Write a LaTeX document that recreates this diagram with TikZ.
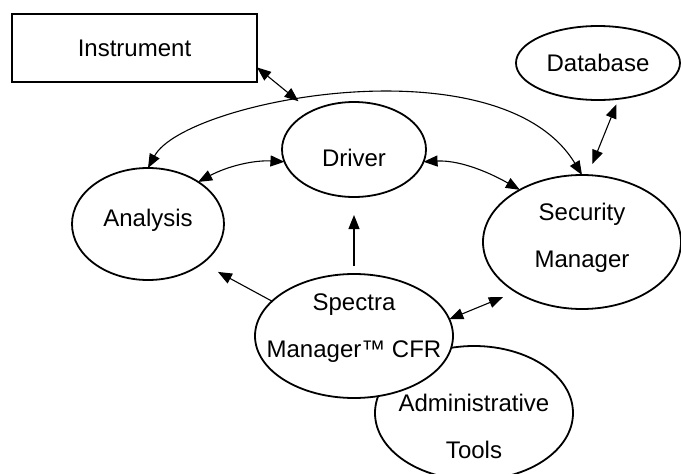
\documentclass[tikz,border=0pt]{standalone}
\usepackage{fontspec}
\setmainfont{Liberation Sans}
\usetikzlibrary{arrows.meta,shapes.geometric}

\begin{document}
\begin{tikzpicture}[
        x=1pt, y=-1pt,
        font=\fontsize{24}{47}\selectfont,
        >={Triangle[length=14pt,width=11pt]},
        box/.style={draw, line width=2.6pt, minimum width=245pt, minimum height=68pt, inner sep=0pt, outer sep=0pt},
        blob/.style={draw, ellipse, line width=1.8pt, fill=white, inner sep=0pt, outer sep=0pt},
        link/.style={<->, line width=1.1pt},
        oneway/.style={->, line width=1.1pt}
        ]
        \useasboundingbox (0,0) rectangle (681,474);

        % --- Top row ---
        \node[box] (instrument) at (134.5,48) {Instrument};
        \node[blob, minimum width=164pt, minimum height=74pt, label={center:Database}] (database) at (598,63) {};

        % --- Middle row ---
        \node[blob, minimum width=144pt, minimum height=95pt, label={[yshift=-8pt]center:Driver}] (driver) at (354,149.5) {};
        \node[blob, minimum width=152pt, minimum height=112pt, label={[yshift=4pt]center:Analysis}] (analysis) at (148,224) {};
        \node[blob, minimum width=198pt, minimum height=134pt, label={[align=center, yshift=4pt]center:Security\\Manager}] (security) at (582,242) {};

        % --- Bottom (admin first, spectra covers it) ---
        \node[blob, minimum width=198pt, minimum height=134pt, label={[align=center, yshift=-13.75pt]center:Administrative\\Tools}] (admin) at (474,413) {};
        \node[blob, minimum width=198pt, minimum height=124pt, label={[align=center, yshift=7.5pt]center:Spectra\\Manager™ CFR}] (spectra) at (354,336) {};

        % Arrows
        \draw[link] (analysis.north) .. controls (185,100) and (500,40) .. coordinate[pos=0.41] (meet) (security.north);
        \draw[link] (instrument.-9) -- (meet);
        \draw[link] (analysis.40) .. controls (228,166) and (254,160) .. (driver.190);
        \draw[link] (driver.-10) .. controls (457,160) and (485,170) .. (security.140);
        \draw[link, shorten <=6pt, shorten >=12pt] (database.-60) -- (security.85);

        \draw[oneway, shorten <=8pt, shorten >=18pt] (spectra.north) -- (driver.south);
        \draw[oneway, shorten >=18pt] (spectra.157) -- (analysis.-36);
        \draw[link, shorten >=14pt] (spectra.10) -- (security.217);

    \end{tikzpicture}
\end{document}
